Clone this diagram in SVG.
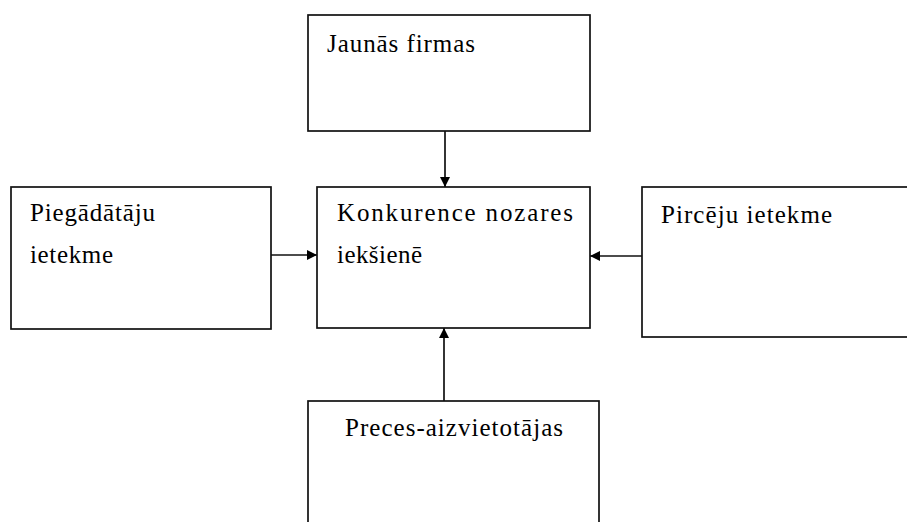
<svg xmlns="http://www.w3.org/2000/svg" width="907" height="522" viewBox="0 0 907 522">
<defs>
<marker id="ah" markerWidth="10" markerHeight="10" refX="10" refY="5" orient="auto" markerUnits="userSpaceOnUse">
<path d="M0,0 L10,5 L0,10 Z" fill="#000"/>
</marker>
<style>
.box{fill:#fff;stroke:#111;stroke-width:1.7}
.t{font-family:"Liberation Serif","Times New Roman",serif;font-size:25px;fill:#000}
.c{stroke:#111;stroke-width:1.7;fill:none;marker-end:url(#ah)}
</style>
</defs>
<rect width="907" height="522" fill="#fff"/>
<g id="connectors">
<line class="c" x1="445" y1="131" x2="445" y2="187"/>
<line class="c" x1="271" y1="255" x2="317" y2="255"/>
<line class="c" x1="642" y1="256" x2="590" y2="256"/>
<line class="c" x1="444" y1="401" x2="444" y2="328"/>
</g>
<g id="jaunas">
<rect class="box" x="308" y="15" width="282" height="116"/>
<text class="t" x="327" y="52" textLength="148" lengthAdjust="spacing">Jaunās firmas</text>
</g>
<g id="konkurence">
<rect class="box" x="317" y="187" width="273" height="141"/>
<text class="t" x="337" y="221" textLength="236" lengthAdjust="spacing">Konkurence nozares</text>
<text class="t" x="337" y="263" textLength="85" lengthAdjust="spacing">iekšienē</text>
</g>
<g id="piegadataju">
<rect class="box" x="11" y="187" width="260" height="142"/>
<text class="t" x="30" y="221" textLength="125" lengthAdjust="spacing">Piegādātāju</text>
<text class="t" x="30" y="263" textLength="83" lengthAdjust="spacing">ietekme</text>
</g>
<g id="pirceju">
<rect class="box" x="642" y="187" width="275" height="150"/>
<text class="t" x="661" y="223" textLength="171" lengthAdjust="spacing">Pircēju ietekme</text>
</g>
<g id="preces">
<rect class="box" x="308" y="401" width="291" height="130"/>
<text class="t" x="345" y="436" textLength="218" lengthAdjust="spacing">Preces-aizvietotājas</text>
</g>
</svg>
